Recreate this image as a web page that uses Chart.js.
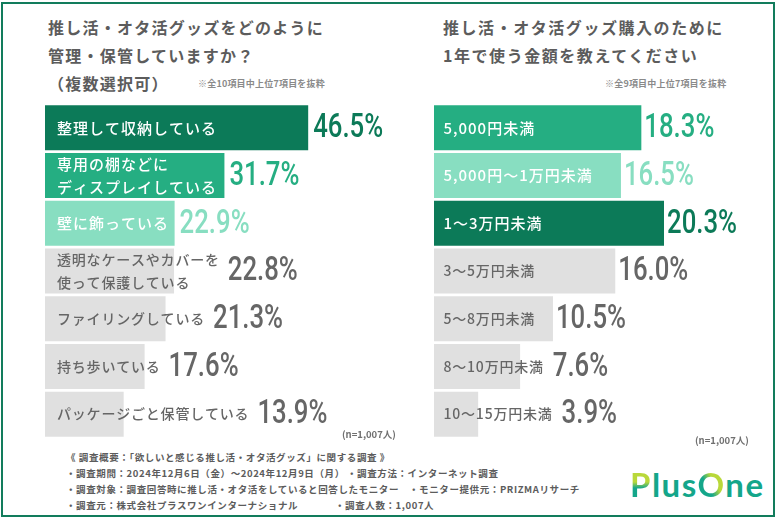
<!DOCTYPE html>
<html lang="ja">
<head>
<meta charset="utf-8">
<script src="https://cdn.jsdelivr.net/npm/chart.js@4"></script>
<style>
html, body { margin: 0; padding: 0; background: #fff; }
#page { position: relative; width: 780px; height: 521px; overflow: hidden; background: #fff;
  font-family: "Noto Sans CJK JP", sans-serif; color: #5c5c5c; }
#frame { position: absolute; left: 1px; top: 2px; width: 769.7px; height: 510.5px; border: 2.5px solid #127c5c; }
canvas { position: absolute; display: block; }
.t { position: absolute; white-space: pre; line-height: 1; }
.title { font-size: 16px; font-weight: 700; letter-spacing: 1.25px; }
.sub { font-size: 9px; font-weight: 700; color: #8a8a8a; letter-spacing: .2px; }
.n { font-size: 9.5px; font-weight: 700; color: #707070; }
.foot { font-size: 9.5px; font-weight: 700; color: #5c5c5c; letter-spacing: .6px; }
#logo { position: absolute; left: 630px; top: 468px; font: 700 33px "Lato", sans-serif; line-height: 1; letter-spacing: 1.5px; color: #14a68a; }
#logo span { background-clip: text; -webkit-background-clip: text; color: transparent; }
#logo .p { background-image: linear-gradient(180deg, #b9d83a 0, #b9d83a 45%, #14a68a 60%); }
#logo .o { background-image: linear-gradient(60deg, #14a68a 0, #14a68a 40%, #b9d83a 60%); }
</style>
</head>
<body>
<div id="page">
  <div id="frame"></div>
  <div class="t title" style="left:48px;top:19px">推し活・オタ活グッズをどのように</div>
  <div class="t title" style="left:48px;top:47px">管理・保管していますか？</div>
  <div class="t title" style="left:48px;top:75px">（複数選択可）</div>
  <div class="t sub" style="left:198px;top:79px">※全10項目中上位7項目を抜粋</div>
  <div class="t title" style="left:443px;top:19px;letter-spacing:1.55px">推し活・オタ活グッズ購入のために</div>
  <div class="t title" style="left:443px;top:47px;letter-spacing:1.55px">1年で使う金額を教えてください</div>
  <div class="t sub" style="left:605px;top:79px">※全9項目中上位7項目を抜粋</div>

  <canvas id="left-chart" width="370" height="334" style="left:45px;top:103.7px"></canvas>
  <canvas id="right-chart" width="330" height="334" style="left:434px;top:103.7px"></canvas>

  <div class="t n" style="left:342px;top:430px">(n=1,007人)</div>
  <div class="t n" style="left:695px;top:436px">(n=1,007人)</div>

  <div class="t foot" style="left:66px;top:453px">《 調査概要：「欲しいと感じる推し活・オタ活グッズ」に関する調査 》</div>
  <div class="t foot" style="left:66px;top:469px">・調査期間：2024年12月6日（金）～2024年12月9日（月）</div>
  <div class="t foot" style="left:347px;top:469px">・調査方法：インターネット調査</div>
  <div class="t foot" style="left:66px;top:485px">・調査対象：調査回答時に推し活・オタ活をしていると回答したモニター</div>
  <div class="t foot" style="left:409px;top:485px">・モニター提供元：PRIZMAリサーチ</div>
  <div class="t foot" style="left:66px;top:501px">・調査元：株式会社プラスワンインターナショナル</div>
  <div class="t foot" style="left:335px;top:501px">・調査人数：1,007人</div>
  <div id="logo"><span class="p">P</span>lus<span class="o">O</span>ne</div>
</div>

<script>
const storageLabels = ['整理して収納している', ['専用の棚などに', 'ディスプレイしている'], '壁に飾っている',
    ['透明なケースやカバーを', '使って保護している'], 'ファイリングしている', '持ち歩いている', 'パッケージごと保管している'];
const storageValues = [46.5, 31.7, 22.9, 22.8, 21.3, 17.6, 13.9];

const spendLabels = ['5,000円未満', '5,000円～1万円未満', '1～3万円未満', '3～5万円未満', '5～8万円未満', '8～10万円未満', '10～15万円未満'];
const spendValues = [18.3, 16.5, 20.3, 16.0, 10.5, 7.6, 3.9];

const DARK = '#0c7a58';
const MID = '#25ae82';
const LIGHT = '#88dec1';
const GRAY = '#e0e0e0';
const GRAY_TEXT = '#666666';

const storageColors = [DARK, MID, LIGHT, GRAY, GRAY, GRAY, GRAY];
const spendColors = [MID, LIGHT, DARK, GRAY, GRAY, GRAY, GRAY];

// labels inside the bars + percentages after the bar (or after the label if it runs over)
const barText = {
    id: 'barText',
    afterDatasetsDraw(chart, args, opts) {
        const ctx = chart.ctx;
        const bars = chart.getDatasetMeta(0).data;
        const labels = chart.data.labels;
        const values = chart.data.datasets[0].data;
        const colors = chart.data.datasets[0].backgroundColor;

        bars.forEach(function(bar, i) {
            const gray = colors[i] === GRAY;
            const lines = [].concat(labels[i]);
            ctx.save();
            ctx.font = gray ? '500 14px "Noto Sans CJK JP"' : '500 15px "Noto Sans CJK JP"';
            ctx.letterSpacing = gray ? '0.8px' : '1px';
            ctx.fillStyle = gray ? GRAY_TEXT : '#ffffff';
            ctx.textAlign = 'left';
            ctx.textBaseline = 'middle';
            let textEnd = 0;
            lines.forEach(function(line, j) {
                const y = bar.y + (j - (lines.length - 1) / 2) * opts.lineHeight;
                ctx.fillText(line, opts.labelX, y);
                textEnd = Math.max(textEnd, opts.labelX + ctx.measureText(line).width);
            });

            // the condensed figures: Roboto squeezed sideways
            const x = Math.max(bar.x + opts.valueGap, textEnd + opts.textGap);
            ctx.letterSpacing = '0px';
            ctx.font = '500 33px Roboto, sans-serif';
            ctx.fillStyle = gray ? GRAY_TEXT : colors[i];
            ctx.translate(x, bar.y + 1);
            ctx.scale(0.78, 1);
            ctx.fillText(values[i].toFixed(1) + '%', 0, 0);
            ctx.restore();
        });
    }
};

function createChart(id, labels, values, colors, xMax, textOpts) {
    return new Chart(document.getElementById(id), {
        type: 'bar',
        data: {
            labels: labels,
            datasets: [{
                data: values,
                backgroundColor: colors,
                barPercentage: 0.943,
                categoryPercentage: 1
            }]
        },
        options: {
            indexAxis: 'y',
            responsive: false,
            animation: false,
            layout: { padding: 0 },
            scales: {
                x: { display: false, min: 0, max: xMax },
                y: { display: false }
            },
            plugins: {
                legend: { display: false },
                tooltip: { enabled: false },
                barText: textOpts
            }
        },
        plugins: [barText]
    });
}

document.addEventListener('DOMContentLoaded', function() {
    createChart('left-chart', storageLabels, storageValues, storageColors, 370 / 5.66,
        { labelX: 12, lineHeight: 23, valueGap: 5, textGap: 8 });
    createChart('right-chart', spendLabels, spendValues, spendColors, 330 / 11.33,
        { labelX: 9.5, lineHeight: 23, valueGap: 3, textGap: 9 });
});
</script>
</body>
</html>
